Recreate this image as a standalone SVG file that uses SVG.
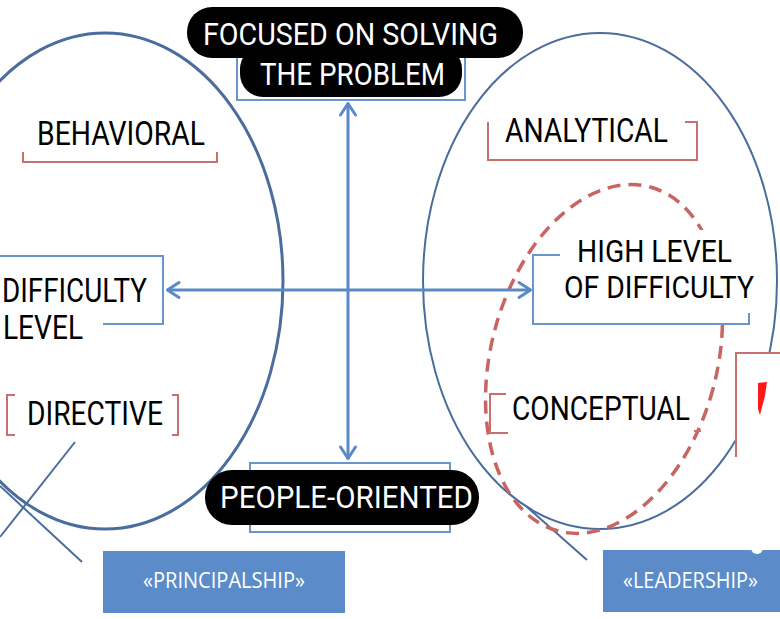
<svg xmlns="http://www.w3.org/2000/svg" width="780" height="619" viewBox="0 0 780 619">
  <defs>
    <marker id="arr" viewBox="0 0 14 18" refX="13" refY="9" markerWidth="14" markerHeight="18" markerUnits="userSpaceOnUse" orient="auto-start-reverse" overflow="visible">
      <path d="M1,1.5 L12.5,9 L1,16.5" fill="none" stroke="#5a8ac6" stroke-width="3" stroke-linecap="round" stroke-linejoin="round"/>
    </marker>
  </defs>
  <style>
    .ell { fill: none; stroke: #4a6d9d; }
    .blk { fill: #000; }
    .wt { fill: #fff; font-family: Roboto, "Liberation Sans", sans-serif; font-size: 32px; font-weight: 400; }
    .bt { fill: #000; font-family: Roboto, "Liberation Sans", sans-serif; font-size: 33px; font-weight: 400; }
    .bbr { fill: none; stroke: #6a95cc; stroke-width: 2; }
    .rbr { fill: none; stroke: #c9706e; stroke-width: 2; }
    .box { fill: #5b8cc9; }
    .bxt { fill: #fff; font-family: "Open Sans", "Liberation Sans", sans-serif; font-size: 21px; }
    .conn { fill: none; stroke: #5a8ac6; stroke-width: 3; }
    .thin { stroke: #4a6d9d; stroke-width: 2; fill: none; }
  </style>
  <rect width="780" height="619" fill="#fff"/>

  <!-- ellipses -->
  <g id="principalship-ellipse">
    <ellipse class="ell" cx="105" cy="281" rx="178" ry="248" stroke-width="3"/>
    <line class="thin" x1="75" y1="442" x2="0" y2="537"/>
    <line class="thin" x1="0" y1="486" x2="82" y2="562"/>
  </g>
  <g id="leadership-ellipse">
    <ellipse class="ell" cx="600" cy="281" rx="177" ry="248" stroke-width="2"/>
    <line class="thin" x1="527" y1="507" x2="587" y2="560"/>
  </g>
  <g id="conceptual-ellipse">
    <ellipse cx="604" cy="359" rx="113" ry="178" transform="rotate(15 604 359)" fill="none" stroke="#c86462" stroke-width="3.5" stroke-dasharray="13 8"/>
  </g>

  <!-- red side box -->
  <g id="red-box">
    <rect x="736" y="353" width="50" height="104" fill="#fff"/>
    <path d="M780,353 L736,353 L736,457" class="rbr"/>
    <path d="M758,383 L767,382 L765,396 L760,415 L758,409 Z" fill="#ff1a1a"/>
  </g>

  <!-- connectors -->
  <g id="connectors">
    <line class="conn" x1="348" y1="103" x2="348" y2="459" marker-start="url(#arr)" marker-end="url(#arr)"/>
    <line class="conn" x1="167" y1="290" x2="531" y2="290" marker-start="url(#arr)" marker-end="url(#arr)"/>
  </g>

  <!-- top node -->
  <g id="focused">
    <path d="M237,100 L237,45 L465,45 L465,100 Z" fill="none" stroke="#6a95cc" stroke-width="2"/>
    <rect class="blk" x="187" y="7" width="336" height="51" rx="25"/>
    <rect class="blk" x="240" y="46" width="222" height="51" rx="23"/>
    <text class="wt" x="203" y="45" textLength="295" lengthAdjust="spacingAndGlyphs">FOCUSED ON SOLVING</text>
    <text class="wt" x="260" y="85" textLength="185" lengthAdjust="spacingAndGlyphs">THE PROBLEM</text>
  </g>

  <!-- bottom node -->
  <g id="people">
    <rect x="250" y="463" width="200" height="69" fill="none" stroke="#6a95cc" stroke-width="2"/>
    <rect class="blk" x="205" y="470" width="274" height="55" rx="27"/>
    <text class="wt" x="220" y="508" textLength="253" lengthAdjust="spacingAndGlyphs">PEOPLE-ORIENTED</text>
  </g>

  <g id="behavioral">
    <path class="rbr" d="M23,152 L23,162 L217,162 L217,152"/>
    <text class="bt" x="37" y="145" textLength="168" lengthAdjust="spacingAndGlyphs">BEHAVIORAL</text>
  </g>

  <g id="analytical">
    <path class="rbr" d="M488,122 L488,160 L697,160 L697,122 L685,122"/>
    <text class="bt" x="505" y="142" textLength="163" lengthAdjust="spacingAndGlyphs">ANALYTICAL</text>
  </g>

  <g id="difficulty-level">
    <path class="bbr" d="M0,256 L163,256 L163,324 L103,324"/>
    <text class="bt" x="2" y="302" textLength="145" lengthAdjust="spacingAndGlyphs">DIFFICULTY</text>
    <text class="bt" x="3" y="339" textLength="80" lengthAdjust="spacingAndGlyphs">LEVEL</text>
  </g>

  <g id="high-level">
    <path d="M550,230 L762,230 L762,323 L534,323 L534,258 L550,258 Z" fill="#fff"/>
    <path class="bbr" d="M560,255 L533,255 L533,324 L749,324 L749,313"/>
    <text class="bt" x="577" y="262" style="font-size:31px" textLength="155" lengthAdjust="spacingAndGlyphs">HIGH LEVEL</text>
    <text class="bt" x="564" y="298" style="font-size:31px" textLength="190" lengthAdjust="spacingAndGlyphs">OF DIFFICULTY</text>
  </g>

  <g id="directive">
    <path class="rbr" d="M15,395 L7,395 L7,435 L15,435"/>
    <path class="rbr" d="M172,395 L178,395 L178,435 L172,435"/>
    <text class="bt" x="27" y="425" textLength="136" lengthAdjust="spacingAndGlyphs">DIRECTIVE</text>
  </g>

  <g id="conceptual">
    <path class="rbr" d="M506,394 L490,394 L490,433 L508,433"/>
    <path class="rbr" d="M694,431 L701,431"/>
    <text class="bt" x="512" y="420" textLength="178" lengthAdjust="spacingAndGlyphs">CONCEPTUAL</text>
  </g>

  <g id="principalship">
    <rect class="box" x="103" y="551" width="242" height="62"/>
    <text class="bxt" x="143" y="588" textLength="162" lengthAdjust="spacingAndGlyphs">«PRINCIPALSHIP»</text>
  </g>

  <g id="leadership">
    <rect class="box" x="603" y="550" width="177" height="62"/>
    <circle cx="757" cy="548" r="6" fill="#fff"/>
    <text class="bxt" x="623" y="588" textLength="135" lengthAdjust="spacingAndGlyphs">«LEADERSHIP»</text>
  </g>
</svg>
